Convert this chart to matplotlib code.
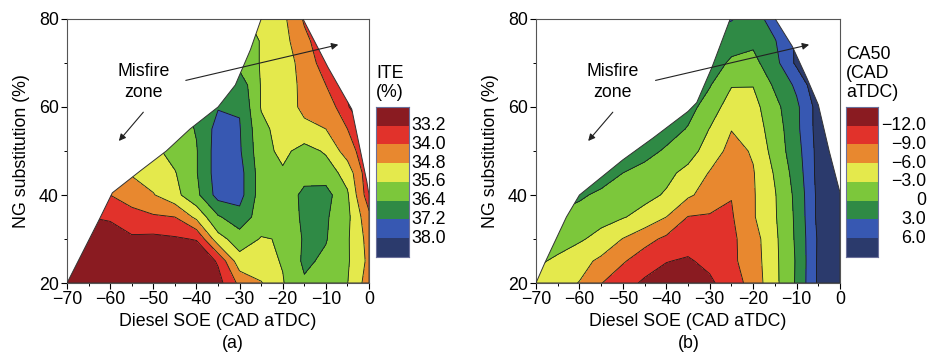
import numpy as np
import matplotlib
matplotlib.use("Agg")
import matplotlib.pyplot as plt
from matplotlib.patches import Polygon
from matplotlib.ticker import MultipleLocator

plt.rcParams['font.family'] = ['Liberation Sans', 'DejaVu Sans']
plt.rcParams['font.size'] = 12.8

# grid of the maps
soe = [-70, -65, -60, -55, -50, -45, -40, -35, -30, -25, -20, -15, -10, -5, 0]
ng = [20, 25, 30, 35, 40, 45, 50, 55, 60, 65, 70, 75, 80]

# ITE (%), one row per NG level
ite_grid = [
    [32.0, 32.0, 32.0, 32.0, 32.0, 32.1, 32.3, 32.9, 34.2, 34.75, 35.55, 36.3, 36.2, 35.62, 34.4],
    [31.8, 32.0, 32.0, 32.4, 32.5, 32.5, 32.5, 33.3, 35.3, 35.35, 35.65, 36.55, 36.25, 35.7, 34.6],
    [31.8, 32.0, 32.0, 33.1, 33.0, 33.1, 33.25, 35.3, 36.0, 35.55, 35.65, 36.5, 36.45, 35.7, 34.5],
    [33.0, 33.2, 33.5, 33.6, 33.9, 34.0, 35.0, 36.3, 36.9, 36.0, 35.9, 36.55, 36.5, 35.8, 34.2],
    [33.6, 33.8, 34.0, 34.5, 34.75, 35.35, 36.2, 37.5, 37.5, 36.0, 35.9, 36.6, 36.7, 35.7, 33.5],
    [34.2, 34.5, 34.7, 34.85, 35.2, 35.55, 36.35, 37.6, 37.5, 36.0, 35.7, 36.1, 36.0, 35.3, 33.4],
    [35.0, 35.1, 35.2, 35.3, 35.4, 35.9, 36.35, 37.6, 37.3, 35.9, 35.4, 35.9, 35.5, 34.4, 33.4],
    [35.5, 35.6, 35.7, 35.8, 35.9, 36.0, 36.45, 37.5, 37.25, 35.8, 35.3, 35.0, 34.8, 34.0, 33.0],
    [35.8, 35.9, 36.0, 36.1, 36.2, 36.3, 36.5, 37.15, 37.15, 35.55, 35.25, 34.6, 34.6, 33.3, 32.0],
    [36.0, 36.1, 36.2, 36.3, 36.4, 36.5, 36.7, 36.8, 36.9, 35.55, 35.2, 34.6, 34.0, 33.0, 32.8],
    [36.0, 36.1, 36.2, 36.2, 36.3, 36.3, 36.4, 36.4, 36.1, 35.55, 35.2, 34.5, 33.6, 33.0, 33.0],
    [36.0, 36.0, 36.1, 36.1, 36.1, 36.1, 36.1, 36.1, 36.1, 35.55, 35.1, 34.2, 33.5, 33.0, 33.0],
    [35.8, 35.8, 35.8, 35.8, 35.8, 35.8, 35.8, 35.8, 35.8, 35.3, 35.0, 33.9, 33.0, 32.5, 32.5],
]

# CA50 (CAD aTDC)
ca50_grid = [
    [-4.0, -5.0, -6.1, -8.9, -10.8, -12.5, -13.2, -13.5, -12.5, -10.5, -7.8, -3.8, 0.4, 6.5, 9.0],
    [-2.5, -3.5, -5.0, -6.6, -8.7, -10.5, -11.9, -12.3, -11.3, -9.6, -7.5, -3.7, 0.3, 6.5, 9.0],
    [-1.0, -1.8, -2.6, -4.0, -6.1, -8.0, -9.6, -10.8, -10.6, -9.6, -7.3, -3.6, 0.5, 6.4, 9.0],
    [0.5, -0.8, -1.5, -2.0, -2.8, -4.0, -6.0, -9.1, -9.3, -9.3, -6.3, -3.3, 0.6, 6.8, 9.0],
    [2.5, 2.0, 0.6, -0.8, -1.5, -2.2, -3.3, -5.5, -7.3, -8.9, -6.3, -3.2, 0.8, 6.8, 9.0],
    [2.5, 2.3, 2.1, 2.0, 0.0, -1.0, -2.3, -3.8, -6.2, -7.0, -6.2, -2.7, 1.3, 7.0, 9.0],
    [2.5, 2.5, 2.4, 2.3, 2.2, 1.0, -0.4, -1.8, -4.3, -7.0, -5.7, -1.8, 1.8, 7.0, 9.5],
    [2.5, 2.5, 2.5, 2.4, 2.4, 2.3, 1.3, -0.2, -3.1, -5.9, -4.5, -1.6, 2.3, 7.2, 9.5],
    [2.5, 2.5, 2.5, 2.5, 2.5, 2.5, 2.5, 1.0, -1.3, -4.6, -4.0, -0.9, 2.4, 7.2, 9.5],
    [2.5, 2.5, 2.5, 2.5, 2.5, 2.5, 2.5, 2.5, 0.2, -2.8, -2.9, 0.5, 3.6, 8.5, 9.5],
    [2.5, 2.5, 2.5, 2.5, 2.5, 2.5, 2.5, 2.5, 1.2, -0.4, -0.9, 2.0, 6.6, 9.0, 10.0],
    [2.5, 2.5, 2.5, 2.5, 2.5, 2.5, 2.5, 2.5, 1.5, 1.0, 0.6, 2.8, 6.5, 9.0, 10.0],
    [4.0, 4.0, 4.0, 4.0, 4.0, 4.0, 4.0, 4.0, 4.0, 3.2, 1.5, 4.5, 7.0, 9.0, 10.0],
]

# edge of the operating (non-misfire) region
ite_edge_soe = [-70, -62.5, -59.5, -53, -47, -41.5, -35, -31, -27.5, -25, -15.3, -9.5, -4, -0.5, 0, 0]
ite_edge_ng = [20, 34.5, 40.5, 45.5, 50, 55, 60, 65, 73, 80, 80, 69, 59.5, 43, 40, 20]
ca50_edge_soe = [-70, -68, -63, -60, -50, -43, -35, -33, -29.5, -25.3, -14.9, -11, -7.6, -5, -2.5, 0, 0]
ca50_edge_ng = [20, 24.5, 35, 40, 48, 53, 59, 61, 69, 80, 80, 73.8, 66.5, 60.5, 50, 40.5, 20]

ite_levels = [33.2, 34.0, 34.8, 35.6, 36.4, 37.2, 38.0]
ca50_levels = [-12, -9, -6, -3, 0, 3, 6]
ite_labels = ['33.2', '34.0', '34.8', '35.6', '36.4', '37.2', '38.0']
ca50_labels = ['\u221212.0', '\u22129.0', '\u22126.0', '\u22123.0', '0', '3.0', '6.0']

band_colors = ['#8a1b21', '#e1322b', '#e8882f', '#e4e94c', '#7cc73b', '#2f8a45', '#3758b2', '#2b3a6c']


def draw_map(ax, grid, levels, edge_soe, edge_ng):
    z = np.array(grid)
    full = [z.min() - 1] + levels + [z.max() + 1]
    cf = ax.contourf(soe, ng, z, levels=full, colors=band_colors)
    cl = ax.contour(soe, ng, z, levels=levels, colors='#1a1a1a', linewidths=0.6,
                    negative_linestyles='solid')
    edge = Polygon(np.column_stack([edge_soe, edge_ng]), closed=True,
                   facecolor='none', edgecolor='#333333', linewidth=0.7, zorder=3)
    ax.add_patch(edge)
    cf.set_clip_path(edge)
    cl.set_clip_path(edge)

    ax.set_xlim(-70, 0)
    ax.set_ylim(20, 80)
    ax.set_xticks(range(-70, 1, 10))
    ax.set_yticks([20, 40, 60, 80])
    ax.xaxis.set_minor_locator(MultipleLocator(5))
    ax.yaxis.set_minor_locator(MultipleLocator(10))
    ax.tick_params(direction='out', length=4, width=0.8, pad=2)
    ax.tick_params(which='minor', direction='out', length=2.5, width=0.7)
    for s in ax.spines.values():
        s.set_color('#555555')
        s.set_linewidth(0.8)
    ax.set_xlabel('Diesel SOE (CAD aTDC)', labelpad=3)
    ax.set_ylabel('NG substitution (%)', labelpad=6)

    ax.text(-52.3, 65.7, 'Misfire\nzone', ha='center', va='center', linespacing=1.3)
    ax.annotate('', xy=(-58.4, 51.8), xytext=(-51.9, 59.3),
                arrowprops=dict(arrowstyle='-|>', color='#222222', lw=0.8, mutation_scale=10))
    ax.annotate('', xy=(-6.5, 74.3), xytext=(-43.1, 65.9),
                arrowprops=dict(arrowstyle='-|>', color='#222222', lw=0.8, mutation_scale=10))


def draw_key(cax, title, labels, right_align):
    cax.imshow(np.arange(len(band_colors)).reshape(-1, 1),
               cmap=matplotlib.colors.ListedColormap(band_colors),
               aspect='auto', extent=(0, 1, 0, 1))
    cax.set_xticks([])
    cax.set_yticks([])
    for s in cax.spines.values():
        s.set_color('#6a6f9a')
        s.set_linewidth(0.8)
    n = len(band_colors)
    for k, lab in enumerate(labels):
        y = 1 - (k + 1) / n
        if right_align:
            cax.text(2.5, y, lab, ha='right', va='center', transform=cax.transAxes)
        else:
            cax.text(1.07, y, lab, ha='left', va='center', transform=cax.transAxes)
    cax.text(0.0, 1.04, title, ha='left', va='bottom', linespacing=1.15,
             transform=cax.transAxes)


fig = plt.figure(figsize=(9.27, 3.55), dpi=100)
ax1 = fig.add_axes([0.0723, 0.2028, 0.3258, 0.7437])
ax2 = fig.add_axes([0.5782, 0.2028, 0.3280, 0.7437])
cax1 = fig.add_axes([0.4056, 0.2761, 0.0356, 0.4225])
cax2 = fig.add_axes([0.9126, 0.2761, 0.0345, 0.4225])

draw_map(ax1, ite_grid, ite_levels, ite_edge_soe, ite_edge_ng)
draw_map(ax2, ca50_grid, ca50_levels, ca50_edge_soe, ca50_edge_ng)
draw_key(cax1, 'ITE\n(%)', ite_labels, False)
draw_key(cax2, 'CA50\n(CAD\naTDC)', ca50_labels, True)

fig.text(233 / 927, 1 - 343 / 355, '(a)', ha='center', va='center')
fig.text(689 / 927, 1 - 343 / 355, '(b)', ha='center', va='center')

fig.savefig('out.png', dpi=100)
